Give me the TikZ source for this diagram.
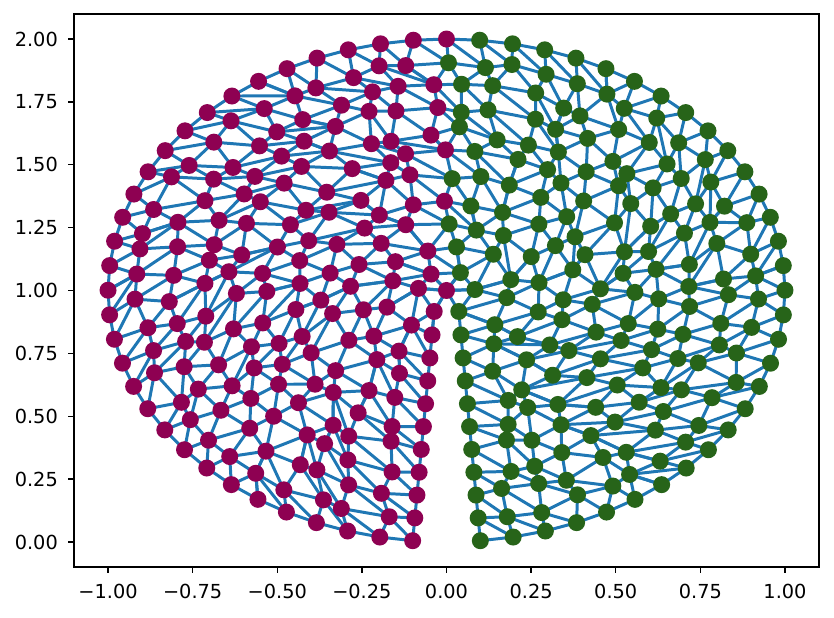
\documentclass[tikz,border=0pt]{standalone}
\usepackage{fontspec}
\setmainfont{DejaVu Sans}
\usepackage{tikz}
\usetikzlibrary{positioning}
\definecolor{meshblue}{HTML}{1F77B4}
\definecolor{leftpart}{HTML}{8E0152}
\definecolor{rightpart}{HTML}{276419}
\pgfdeclarelayer{background}
\pgfsetlayers{background,main}
\tikzset{
    meshedge/.style={meshblue, line width=1.7pt},
    meshdot/.style={
        circle,
        inner sep=0pt,
        minimum size=0.34cm
    },
    leftdot/.style={meshdot, fill=leftpart},
    rightdot/.style={meshdot, fill=rightpart},
    axisline/.style={black, line width=0.8pt},
    ticklabel/.style={
        inner sep=0pt,
        font=\fontsize{11}{13}\selectfont % same size as the plot ticks
    }
}

\begin{document}
\begin{tikzpicture}[x=6.77cm, y=5.03cm,
    declare function={
        ringgap(\k)=asin((0.03+0.07*\k/11)/(max(\k,0.5)/11));
        ringn(\k)=round((360-2*ringgap(\k))*\k/61.765);
    }]
    \useasboundingbox (-1.3191,-0.3022) rectangle (1.1448,2.1551);
    \pgfmathsetseed{11}

    % centre, then rings 1..11 round (0,1), cut open at the bottom
    \node (p-0-0) [leftdot] at (0,1) {};
    \foreach \k in {1,...,11}{
        \pgfmathtruncatemacro{\n}{ringn(\k)}
        \pgfmathsetmacro{\gap}{ringgap(\k)}
        \foreach \j in {0,...,\n}{
            \pgfmathsetmacro{\da}{(\k<11 && \j>0 && \j<\n) ? 0.25*(360-2*\gap)/\n*rand : 0}
            \pgfmathsetmacro{\dr}{(\k<11 && \j>0 && \j<\n) ? 0.022*rand : 0}
            \pgfmathsetmacro{\ang}{-90+\gap+\j/\n*(360-2*\gap)+\da}
            \pgfmathsetmacro{\rad}{\k/11+\dr}
            \pgfmathsetmacro{\px}{\rad*cos(\ang)}
            \pgfmathsetmacro{\py}{1+\rad*sin(\ang)}
            \ifdim\px pt>0.001pt
                \node (p-\k-\j) [rightdot] at (\px,\py) {};
            \else
                \node (p-\k-\j) [leftdot] at (\px,\py) {};
            \fi
        }
    }

    \begin{pgfonlayer}{background}
    \foreach \k in {1,...,11}{
        \pgfmathtruncatemacro{\n}{ringn(\k)}
        \pgfmathtruncatemacro{\km}{\k-1}
        \pgfmathtruncatemacro{\m}{ringn(\km)}
        \foreach \j in {0,...,\n}{
            \pgfmathtruncatemacro{\a}{round(\j*\m/\n)}
            \draw [meshedge] (p-\k-\j.center) -- (p-\km-\a.center);
        }
        \foreach \j in {1,...,\n}{
            \pgfmathtruncatemacro{\jp}{\j-1}
            \pgfmathtruncatemacro{\b}{round(\jp*\m/\n)}
            \draw [meshedge] (p-\k-\j.center) -- (p-\km-\b.center);
            \draw [meshedge] (p-\k-\jp.center) -- (p-\k-\j.center);
        }
    }
    \end{pgfonlayer}

    % axes
    \draw [axisline] (-1.1,-0.1) rectangle (1.1,2.1);
    \foreach \t/\lab in {-1/−1.00, -0.75/−0.75, -0.5/−0.50, -0.25/−0.25, 0/0.00, 0.25/0.25, 0.5/0.50, 0.75/0.75, 1/1.00}{
        \draw [axisline] (\t,-0.1) -- ++(0,-0.126cm);
        \node (xt\t) [ticklabel, anchor=north] at ([yshift=-0.34cm]\t,-0.1) {\lab};
    }
    \foreach \t/\lab in {0/0.00, 0.25/0.25, 0.5/0.50, 0.75/0.75, 1/1.00, 1.25/1.25, 1.5/1.50, 1.75/1.75, 2/2.00}{
        \draw [axisline] (-1.1,\t) -- ++(-0.126cm,0);
        \node (yt\t) [ticklabel, anchor=east] at ([xshift=-0.32cm]-1.1,\t) {\lab};
    }
\end{tikzpicture}
\end{document}
